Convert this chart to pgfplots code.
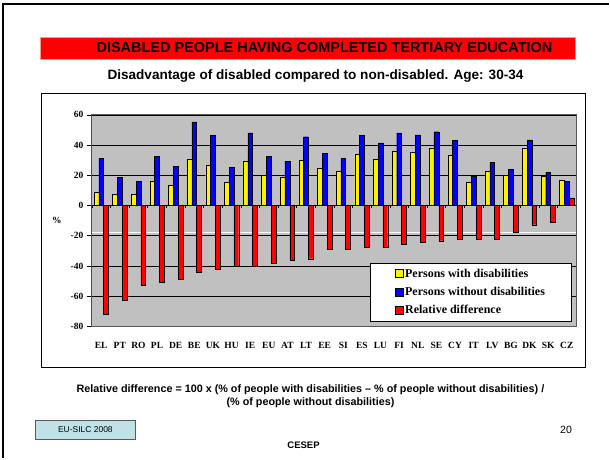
\documentclass[border=0pt]{standalone}
\usepackage{pgfplots}
\pgfplotsset{compat=1.18}
\usepackage{pgfplotstable}
\usepackage{fontspec}
\setmainfont{Liberation Serif}
\newfontfamily\arial{Liberation Sans}
\definecolor{plotgray}{RGB}{192,192,192}
\definecolor{eubox}{RGB}{190,226,230}
\definecolor{titlered}{RGB}{255,0,0}
\definecolor{titleedge}{RGB}{255,150,150}
\pgfplotstableread{
idx dis nondis rel
0 8.8 31.2 -71.9
1 7.5 18.7 -62.6
2 7.5 16.0 -52.7
3 16.0 32.5 -50.8
4 13.4 25.9 -48.8
5 30.5 55.4 -44.2
6 26.6 46.2 -42.2
7 15.4 25.3 -40.2
8 29.2 48.1 -40.2
9 20.0 32.3 -38.2
10 18.7 29.2 -36.0
11 29.9 45.5 -35.2
12 24.6 34.5 -29.2
13 22.6 31.2 -28.6
14 33.8 46.2 -27.3
15 30.5 41.5 -27.3
16 35.8 48.1 -25.9
17 35.2 46.8 -24.0
18 37.8 48.8 -23.3
19 33.2 43.1 -22.6
20 15.4 19.3 -22.0
21 22.6 28.6 -22.0
22 20.0 24.0 -17.4
23 37.8 43.5 -12.7
24 19.3 22.0 -10.8
25 16.7 16.0 5.0
}\datatable
\begin{document}
\begin{tikzpicture}
\path (0pt,0pt) rectangle (610pt,-459pt);
% slide frame
\draw[line width=2pt] (3pt,-459pt) -- (3pt,-4pt) -- (610pt,-4pt);
% title bar
\draw[titleedge, fill=titlered, line width=0.8pt] (40pt,-37pt) rectangle (576pt,-59pt);
\node[font=\arial\bfseries\fontsize{14.5}{16}\selectfont] at (325pt,-48pt) {DISABLED PEOPLE HAVING COMPLETED TERTIARY EDUCATION};
\node[font=\arial\bfseries\fontsize{13.6}{15}\selectfont] at (316pt,-76pt) {Disadvantage of disabled compared to non-disabled. Age: 30-34};
% chart box
\draw[black, fill=white, line width=0.8pt] (41pt,-94pt) rectangle (586pt,-368pt);
\node[font=\bfseries\fontsize{9.5}{10}\selectfont] at (57pt,-221pt) {\%};
\begin{axis}[
  at={(92pt,-327pt)}, anchor=south west,
  scale only axis, width=485pt, height=212pt,
  xmin=-0.5, xmax=25.5, ymin=-80, ymax=60,
  axis background/.style={fill=plotgray},
  axis line style={draw=gray!70!black, line width=0.8pt},
  ytick={-80,-60,-40,-20,0,20,40,60},
  yticklabels={-80,-60,-40,-20,0,20,40,60},
  ytick pos=left,
  ymajorgrids, grid style={black, line width=0.6pt},
  y tick style={black, line width=0.6pt},
  tick align=outside, major tick length=5pt,
  xtick={0,...,25},
  xticklabels={EL,PT,RO,PL,DE,BE,UK,HU,IE,EU,AT,LT,EE,SI,ES,LU,FI,NL,SE,CY,IT,LV,BG,DK,SK,CZ},
  x tick style={draw=none},
  xticklabel style={font=\bfseries\fontsize{9.5}{10}\selectfont, yshift=-7pt},
  yticklabel style={font=\bfseries\fontsize{9.5}{10}\selectfont},
  legend style={at={(0.99,0.302)}, anchor=north east, draw=black, fill=white,
    font=\bfseries\fontsize{12}{13}\selectfont, inner xsep=24pt, inner ysep=4pt,
    row sep=4.5pt, line width=0.6pt},
  legend cell align=left,
  legend image code/.code={\draw[#1, draw=black, line width=0.5pt] (0pt,-4pt) rectangle (8pt,4pt);},
]
\addplot[white, line width=1.2pt, sharp plot, forget plot] coordinates {(-0.5,-18) (25.5,-18)};
\addplot[ybar, bar width=4.8pt, bar shift=-4.8pt, fill=yellow, draw=black, line width=0.4pt, forget plot] table[x=idx, y=dis] {\datatable};
\addplot[ybar, bar width=4.8pt, bar shift=0pt, fill=blue, draw=black, line width=0.4pt, forget plot] table[x=idx, y=nondis] {\datatable};
\addplot[ybar, bar width=4.8pt, bar shift=4.8pt, fill=red, draw=black, line width=0.4pt, forget plot] table[x=idx, y=rel] {\datatable};
\draw[black, line width=0.8pt] (axis cs:-0.5,0) -- (axis cs:25.5,0);
\pgfplotsinvokeforeach{0,...,26}{\draw[black, line width=0.5pt] (axis cs:#1-0.5,0) -- (axis cs:#1-0.5,-1.8);}
\draw[black, line width=0.8pt] (axis cs:-0.5,-80) -- (axis cs:-0.5,60);
\addlegendimage{fill=yellow}
\addlegendentry{Persons with disabilities}
\addlegendimage{fill=blue}
\addlegendentry{Persons without disabilities}
\addlegendimage{fill=red}
\addlegendentry{Relative difference}
\end{axis}
% footnote
\node[font=\arial\bfseries\fontsize{10.8}{13.5}\selectfont, align=center] at (311pt,-397pt) {Relative difference = 100 x (\% of people with disabilities – \% of people without disabilities) /\\(\% of people without disabilities)};
\draw[gray!70!black, fill=eubox, line width=0.6pt] (35pt,-421pt) rectangle (136pt,-440pt);
\node[font=\arial\fontsize{8.5}{10}\selectfont] at (85.5pt,-430.5pt) {EU-SILC 2008};
\node[font=\arial\bfseries\fontsize{9.5}{10}\selectfont] at (304pt,-446pt) {CESEP};
\node[font=\arial\fontsize{10.5}{12}\selectfont] at (567pt,-431pt) {20};
\end{tikzpicture}
\end{document}
